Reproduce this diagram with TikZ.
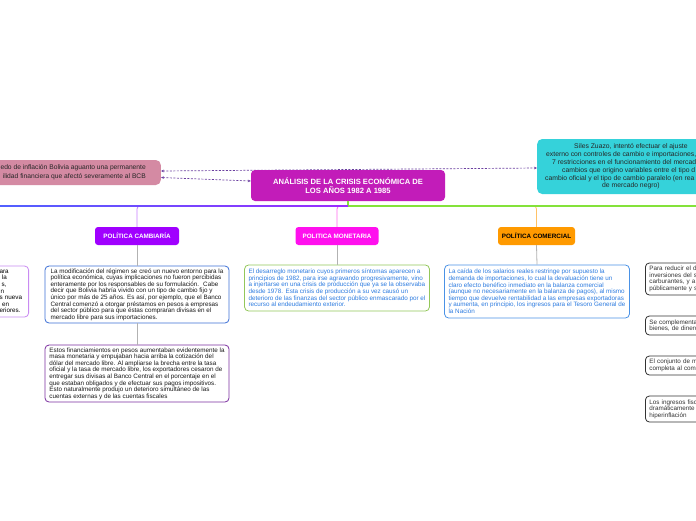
\documentclass[tikz,border=0pt]{standalone}
\usepackage{fontspec}
\setmainfont{Liberation Sans}
\usetikzlibrary{arrows.meta}
\pgfdeclarelayer{back}
\pgfsetlayers{back,main}

\definecolor{mainmag}{HTML}{C21CB9}
\definecolor{rosebox}{HTML}{D48AA3}
\definecolor{cyanbox}{HTML}{35D2DA}
\definecolor{violeta}{HTML}{A000FF}
\definecolor{fucsia}{HTML}{FF10EE}
\definecolor{naranja}{HTML}{FF9A00}
\definecolor{lilac}{HTML}{C98BF2}
\definecolor{bordeazul}{HTML}{3C6FD6}
\definecolor{bordemorado}{HTML}{7B2F9F}
\definecolor{bordeverde}{HTML}{93C75A}
\definecolor{bordecel}{HTML}{4A92E6}
\definecolor{textoazul}{HTML}{2C7BE0}
\definecolor{relacion}{HTML}{6B3FA0}
\definecolor{ramaverde}{HTML}{84E23A}
\definecolor{ramaazul}{HTML}{5160FF}
\definecolor{ramavioleta}{HTML}{9A2CFF}
\definecolor{lineacamb}{HTML}{C77DFF}
\definecolor{lineamon}{HTML}{FF6AF0}
\definecolor{lineacom}{HTML}{FFC266}

\begin{document}
\begin{tikzpicture}[x=1pt,y=-1pt,
	title_node/.style={rectangle,rounded corners=4pt,fill=mainmag,text=white,font=\bfseries\fontsize{7.6}{9}\selectfont,align=center,minimum width=194pt,minimum height=31pt,inner sep=2pt},
	topic_node/.style={rectangle,rounded corners=3pt,font=\bfseries\fontsize{6.3}{7}\selectfont,minimum height=18pt,inner sep=2pt},
	note_node/.style={rectangle,rounded corners=4pt,draw,line width=0.8pt,fill=white,font=\fontsize{6.3}{6.6}\selectfont,align=left,inner xsep=4pt,inner ysep=2pt},
	side_node/.style={note_node,draw=black!80,text=black!80,anchor=west,text width=70pt},
	link/.style={line width=0.8pt},
	relation/.style={relacion,line width=0.7pt,dash pattern=on 2pt off 1.5pt,{Stealth[length=3pt,width=2.6pt]}-{Stealth[length=3pt,width=2.6pt]}}]

	\useasboundingbox (0,0) rectangle (696,520);
	\begin{pgfonlayer}{back}
		\fill[white] (0,0) rectangle (696,520);
	\end{pgfonlayer}

	\node[title_node] (crisis) at (348,185.5) {ANÁLISIS DE LA CRISIS ECONÓMICA DE\\LOS AÑOS 1982 A 1985};

	\node[rectangle,rounded corners=5pt,fill=rosebox,text=black!85,align=right,font=\fontsize{6.7}{8.6}\selectfont,inner xsep=15pt,minimum height=25pt,anchor=east] (inflacion) at (161,172.5) {\hspace*{30pt}edo de inflación Bolivia aguanto una permanente\\ilidad financiera que afectó severamente al BCB};

	\node[rectangle,rounded corners=5pt,fill=cyanbox,text=black!85,align=left,font=\fontsize{6.8}{7.8}\selectfont,inner xsep=8pt,minimum height=55pt,anchor=west] (siles) at (537,166.5) {\hspace*{29pt}Siles Zuazo, intentó efectuar el ajuste\\
		\hspace*{1pt}externo con controles de cambio e importaciones, c\hspace*{20pt}\\
		\hspace*{7pt}7 restricciones en el funcionamiento del mercad\\
		\hspace*{17pt}cambios que origino variables entre el tipo d\\
		cambio oficial y el tipo de cambio paralelo (en rea\\
		\hspace*{57pt}de mercado negro)};

	\node[note_node,draw=lilac,text width=24pt,inner xsep=5pt,minimum height=51pt,anchor=east] (previo) at (29,291.5) {ara\\\hspace*{2.5pt}la\\\hspace*{2pt}s,\\\hspace*{1pt}n\\s nueva\\\hspace*{2.5pt}en\\eriores.};

	\node[topic_node,fill=violeta,text=white,minimum width=84pt] (cambiaria) at (137,236) {POLÍTICA CAMBIARÍA};
	\node[topic_node,fill=fucsia,text=white,minimum width=83pt] (monetaria) at (337,236) {POLITICA MONETARIA};
	\node[topic_node,fill=naranja,text=black,minimum width=77pt] (comercial) at (536.5,236) {POLÍTICA COMERCIAL};

	\node[note_node,draw=bordeazul,text=black!90,minimum width=184pt,minimum height=57pt] (regimen) at (137,294.5) {La modificación del régimen se creó un nuevo entorno para la\\
		política económica, cuyas implicaciones no fueron percibidas\\
		enteramente por los responsables de su formulación.~ Cabe\\
		decir que Bolivia habría vivido con un tipo de cambio fijo y\\
		único por más de 25 años. Es así, por ejemplo, que el Banco\\
		Central comenzó a otorgar préstamos en pesos a empresas\\
		del sector público para que éstas compraran divisas en el\\
		mercado libre para sus importaciones.};
	\node[note_node,draw=bordemorado,text=black!90,minimum width=184pt,minimum height=57pt] (financiamiento) at (137,373.5) {Estos financiamientos en pesos aumentaban evidentemente la\\
		masa monetaria y empujaban hacia arriba la cotización del\\
		dólar del mercado libre. Al ampliarse la brecha entre la tasa\\
		oficial y la tasa de mercado libre, los exportadores cesaron de\\
		entregar sus divisas al Banco Central en el porcentaje en el\\
		que estaban obligados y de efectuar sus pagos impositivos.\\
		Esto naturalmente produjo un deterioro simultáneo de las\\
		cuentas externas y de las cuentas fiscales};
	\node[note_node,draw=bordeverde,text=textoazul,minimum width=184pt,minimum height=46pt] (desarreglo) at (337,288) {El desarreglo monetario cuyos primeros síntomas aparecen a\\
		principios de 1982, para irse agravando progresivamente, vino\\
		a injertarse en una crisis de producción que ya se la observaba\\
		desde 1978. Esta crisis de producción a su vez causó un\\
		deterioro de las finanzas del sector público enmascarado por el\\
		recurso al endeudamiento exterior.};
	\node[note_node,draw=bordecel,text=textoazul,minimum width=184pt,minimum height=53pt] (salarios) at (537,291.5) {La caída de los salarios reales restringe por supuesto la\\
		demanda de importaciones, lo cual la devaluación tiene un\\
		claro efecto benéfico inmediato en la balanza comercial\\
		(aunque no necesariamente en la balanza de pagos), al mismo\\
		tiempo que devuelve rentabilidad a las empresas exportadoras\\
		y aumenta, en principio, los ingresos para el Tesoro General de\\
		la Nación};

	\node[side_node,minimum height=32pt] (reducir) at (645,279) {Para reducir el d\\inversiones del s\\carburantes, y a\\públicamente y s};
	\node[side_node,minimum height=19pt] (complementa) at (645,325.5) {Se complementa\\bienes, de dinero};
	\node[side_node,minimum height=19pt] (conjunto) at (645,365.5) {El conjunto de m\\completa al come};
	\node[side_node,minimum height=26pt] (ingresos) at (645,409) {Los ingresos fisc\\dramáticamente\\hiperinflación};

	\coordinate (borde_izq) at (0,206);
	\coordinate (borde_der) at (696,206);

	% ramas principales
	\draw[link,lineacamb,rounded corners=3pt] ([xshift=6pt]cambiaria.north |- borde_izq) -| (cambiaria.north);
	\draw[link,lineamon,rounded corners=3pt] ([xshift=6pt]monetaria.north |- borde_izq) -| (monetaria.north);
	\draw[link,lineacom,rounded corners=3pt] ([xshift=-6pt]comercial.north |- borde_izq) -| (comercial.north);
	\draw[link,line width=1.8pt,ramaverde] (crisis.south) |- (borde_der);
	\shade[left color=ramaazul,right color=ramavioleta] (borde_izq) ++(0,-0.9) rectangle ([yshift=-0.9pt]crisis.south |- borde_izq);

	% notas
	\draw[link,gray!60] (cambiaria.south) -- (regimen.north);
	\draw[link,gray!60] (regimen.south) -- (financiamiento.north);
	\draw[link,gray!60] (monetaria.south) -- (desarreglo.north);
	\draw[link,gray!60] (comercial.south) -- (salarios.north);

	% relaciones
	\begin{pgfonlayer}{back}
		\draw[relation] ([yshift=1.5pt]inflacion.east) -- ([yshift=-1.5pt]siles.west);
		\draw[relation] ([yshift=-5pt]inflacion.east) -- ([yshift=4.5pt]crisis.west);
	\end{pgfonlayer}
\end{tikzpicture}
\end{document}
